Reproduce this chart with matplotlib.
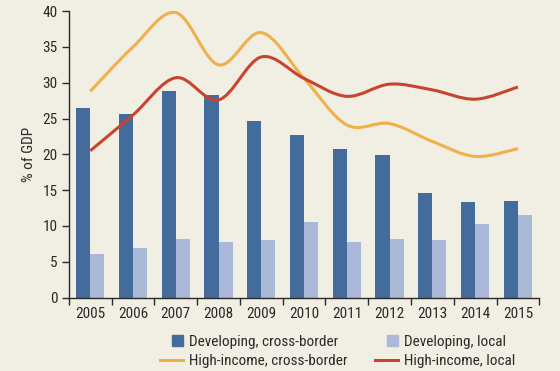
import numpy as np
import matplotlib
matplotlib.use("Agg")
import matplotlib.pyplot as plt
from matplotlib import font_manager as fm
from matplotlib.path import Path
from matplotlib.patches import PathPatch, Rectangle
from matplotlib.lines import Line2D
from matplotlib.legend_handler import HandlerPatch

# pick a condensed face if one is installed
installed = set(f.name for f in fm.fontManager.ttflist)
condensed = ['Liberation Sans Narrow', 'Roboto Condensed', 'Archivo Narrow', 'PT Sans Narrow',
             'Fira Sans Condensed', 'IBM Plex Sans Condensed', 'Encode Sans Condensed',
             'Asap Condensed', 'Barlow Semi Condensed', 'Open Sans Condensed']
picked = [f for f in condensed if f in installed][:1]
plt.rcParams['font.family'] = picked + ['DejaVu Sans']

years = ["2005", "2006", "2007", "2008", "2009", "2010", "2011", "2012", "2013", "2014", "2015"]
dev_cross = [26.5, 25.6, 28.9, 28.3, 24.7, 22.7, 20.8, 19.9, 14.6, 13.4, 13.5]
dev_local = [6.1, 6.9, 8.2, 7.8, 8.1, 10.6, 7.8, 8.2, 8.0, 10.3, 11.5]
high_cross = [28.8, 35.0, 39.8, 32.5, 37.0, 30.6, 24.1, 24.3, 21.8, 19.7, 20.8]
high_local = [20.5, 25.5, 30.7, 27.6, 33.6, 30.6, 28.1, 29.8, 29.0, 27.7, 29.4]

bg = "#f1eee4"
c_dark = "#436c9d"
c_light = "#aab9d8"
c_orange = "#f0b14b"
c_red = "#c8442f"
c_text = "#2a2a2a"
fs = 11


# Excel style smoothed line: cubic bezier segments through the data points
def smooth_path(xs, ys, tension=1/6):
    xs = np.asarray(xs, float)
    ys = np.asarray(ys, float)
    n = len(xs)
    verts = [(xs[0], ys[0])]
    codes = [Path.MOVETO]
    for i in range(n - 1):
        p0 = (xs[max(i - 1, 0)], ys[max(i - 1, 0)])
        p1 = (xs[i], ys[i])
        p2 = (xs[i + 1], ys[i + 1])
        p3 = (xs[min(i + 2, n - 1)], ys[min(i + 2, n - 1)])
        c1 = (p1[0] + (p2[0] - p0[0]) * tension, p1[1] + (p2[1] - p0[1]) * tension)
        c2 = (p2[0] - (p3[0] - p1[0]) * tension, p2[1] - (p3[1] - p1[1]) * tension)
        verts += [c1, c2, p2]
        codes += [Path.CURVE4] * 3
    return Path(verts, codes)


# square legend key drawn at the right end of the handle box
def right_square(legend, orig_handle, xdescent, ydescent, width, height, fontsize):
    s = height * 1.0
    return Rectangle((width - s - xdescent, -ydescent + (height - s) / 2), s, s)


fig = plt.figure(figsize=(5.6, 3.71), dpi=100)
fig.patch.set_facecolor(bg)
ax = fig.add_axes([0.123, 0.198, 0.840, 0.772])
ax.set_facecolor(bg)

x = np.arange(len(years))
w = 0.33
ax.bar(x - 0.165, dev_cross, width=w, color=c_dark, zorder=2)
ax.bar(x + 0.165, dev_local, width=w, color=c_light, zorder=2)

ax.add_patch(PathPatch(smooth_path(x, high_cross), facecolor="none", edgecolor=c_orange, lw=2.2, zorder=3, capstyle="butt"))
ax.add_patch(PathPatch(smooth_path(x, high_local), facecolor="none", edgecolor=c_red, lw=2.2, zorder=4, capstyle="butt"))

ax.set_xlim(-0.5, len(years) - 0.5)
ax.set_ylim(0, 40)
ax.set_yticks(range(0, 41, 5))
ax.set_xticks(np.arange(-0.5, len(years), 1.0))
ax.set_xticklabels([])
ax.set_xticks(x, minor=True)
ax.set_xticklabels(years, minor=True)
ax.tick_params(axis="x", which="major", length=5, width=1, direction="out", color=c_text)
ax.tick_params(axis="x", which="minor", length=0, pad=7, labelsize=fs, colors=c_text)
ax.tick_params(axis="y", length=5, width=1, direction="out", pad=3, labelsize=fs, colors=c_text)
for s in ["top", "right"]:
    ax.spines[s].set_visible(False)
for s in ["left", "bottom"]:
    ax.spines[s].set_color(c_text)
    ax.spines[s].set_linewidth(1)
ax.set_ylabel("% of GDP", fontsize=fs, color=c_text, labelpad=5)

handles = [
    Rectangle((0, 0), 1, 1, color=c_dark),
    Line2D([], [], color=c_orange, lw=2.2),
    Rectangle((0, 0), 1, 1, color=c_light),
    Line2D([], [], color=c_red, lw=2.2),
]
labels = ["Developing, cross-border", "High-income, cross-border",
          "Developing, local", "High-income, local"]
fig.legend(handles, labels, ncol=2, loc="center", bbox_to_anchor=(0.603, 0.052),
           frameon=False, fontsize=fs, handlelength=1.5, handletextpad=0.4,
           columnspacing=1.8, labelspacing=0.35, labelcolor=c_text,
           handler_map={Rectangle: HandlerPatch(patch_func=right_square)})

fig.savefig("out.png", dpi=100, facecolor=bg)
